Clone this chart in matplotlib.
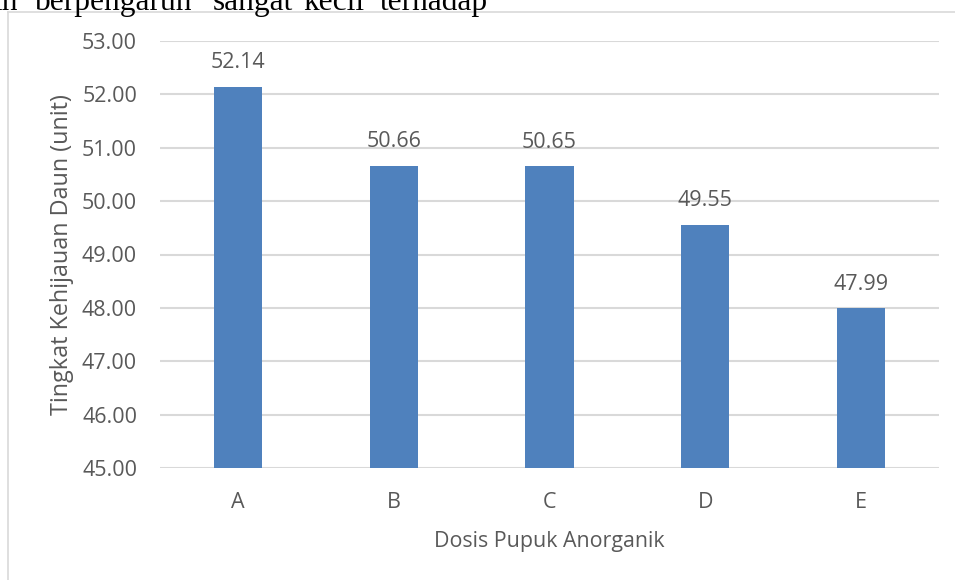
import matplotlib
matplotlib.use("Agg")
import matplotlib.pyplot as plt
from matplotlib.lines import Line2D

categories = ["A", "B", "C", "D", "E"]
values = [52.14, 50.66, 50.65, 49.55, 47.99]
yticks = [45, 46, 47, 48, 49, 50, 51, 52, 53]

FONT = ["Open Sans", "DejaVu Sans"]
GRAY = "#595959"
BAR = "#4f81bd"
GRID = "#d9d9d9"

fig = plt.figure(figsize=(9.55, 5.8), dpi=100)
ax = fig.add_axes([160/955, 1-468/580, (939-160)/955, (468-41)/580])

x = range(len(categories))
ax.bar(x, values, width=0.31, color=BAR, zorder=3)
ax.set_ylim(45, 53)
ax.set_xlim(-0.5, len(categories)-0.5)
ax.set_yticks(yticks)
ax.set_yticklabels([f"{v:.2f}" for v in yticks], fontsize=15.5, color=GRAY, family=FONT)
ax.set_xticks(list(x))
ax.set_xticklabels(categories, fontsize=15.5, color=GRAY, family=FONT)
ax.tick_params(axis="both", length=0)
ax.tick_params(axis="y", pad=16.5)
ax.tick_params(axis="x", pad=17)
ax.yaxis.grid(True, color=GRID, linewidth=1.5, zorder=0)
for s in ax.spines.values():
    s.set_visible(False)

for i, v in enumerate(values):
    ax.annotate(f"{v:.2f}", (i, v), xytext=(0, 10), textcoords="offset points",
                ha="center", va="bottom", fontsize=15.5, color=GRAY, family=FONT)

ax.set_xlabel("Dosis Pupuk Anorganik", fontsize=15.4, color=GRAY, family=FONT, labelpad=13)
ax.set_ylabel("Tingkat Kehijauan Daun (unit)", fontsize=16.8, color=GRAY, family=FONT, labelpad=6)

# outer chart frame (partially visible)
fig.add_artist(Line2D([8/955, 8/955], [0, 1-12/580], color=GRID, linewidth=1.2, transform=fig.transFigure))
fig.add_artist(Line2D([8/955, 1], [1-12/580, 1-12/580], color=GRID, linewidth=1.2, transform=fig.transFigure))

# cropped document text above chart (justified words)
words = ["ih", "berpengaruh", "sangat", "kecil", "terhadap"]
starts = [-7, 35, 213, 303, 380]
for w, sx in zip(words, starts):
    fig.text(sx/955, 1-10/580, w, family=["Liberation Serif"],
             fontsize=22.6, color="black", ha="left", va="baseline")

fig.savefig("out.png", dpi=100, facecolor="white")
